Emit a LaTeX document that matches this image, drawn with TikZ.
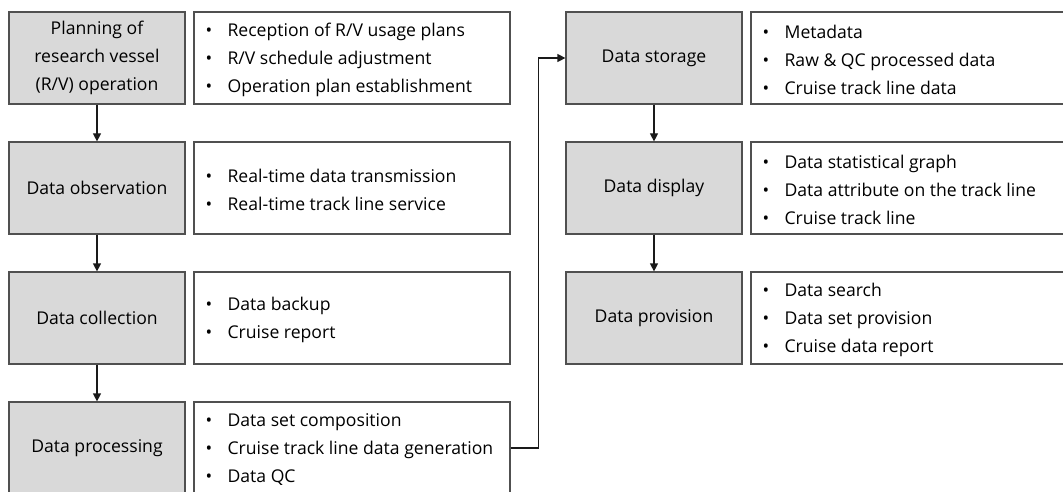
\documentclass[tikz,border=0pt]{standalone}
\usepackage{fontspec}
\setmainfont{Open Sans}
\usetikzlibrary{arrows.meta}
\definecolor{stagefill}{HTML}{D9D9D9}
\definecolor{boxline}{HTML}{505050}
\definecolor{flowline}{HTML}{1A1A1A}
\newcommand\bul{\makebox[22pt][l]{\textbullet}}
\begin{document}
\begin{tikzpicture}[x=1pt,y=-1pt,
  txt/.style={font=\fontsize{17.6}{28}\selectfont},
  stage/.style={draw=boxline, fill=stagefill, line width=1.2pt, minimum width=176pt,
    minimum height=92pt, inner sep=0pt, align=center, txt},
  detail/.style={draw=boxline, fill=white, line width=1.2pt, minimum width=316pt,
    minimum height=92pt, inner sep=0pt},
  items/.style={anchor=west, inner sep=0pt, align=left, txt},
  flow/.style={draw=flowline, line width=1.2pt, -{Triangle[width=8pt,length=8pt]}}
]
\useasboundingbox (0,0) rectangle (1063,492);
\clip (0,0) rectangle (1063,492);

% left column: stages and their details
\node[stage] (p1) at (97,58) {Planning of\\research vessel\\(R/V) operation};
\node[stage] (p2) at (97,188) {Data observation};
\node[stage] (p3) at (97,318) {Data collection};
\node[stage] (p4) at (97,448) {Data processing};

\node[detail] (d1) at (352,58) {};
\node[detail] (d2) at (352,188) {};
\node[detail] (d3) at (352,318) {};
\node[detail] (d4) at (352,448) {};

\node[items] (t1) at ([xshift=12pt,yshift=-2pt]d1.west) {\bul Reception of R/V usage plans\\\bul R/V schedule adjustment\\\bul Operation plan establishment};
\node[items] (t2) at ([xshift=12pt,yshift=-2pt]d2.west) {\bul Real-time data transmission\\\bul Real-time track line service};
\node[items] (t3) at ([xshift=12pt,yshift=-2pt]d3.west) {\bul Data backup\\\bul Cruise report};
\node[items] (t4) at ([xshift=12pt,yshift=-2pt]d4.west) {\bul Data set composition\\\bul Cruise track line data generation\\\bul Data QC};

% right column: stages and their details
\node[stage] (s1) at (654,58) {Data storage};
\node[stage] (s2) at (654,188) {Data display};
\node[stage] (s3) at (654,318) {Data provision};

\node[detail] (e1) at (909,58) {};
\node[detail] (e2) at (909,188) {};
\node[detail] (e3) at (909,318) {};

\node[items] (u1) at ([xshift=12pt,yshift=-2pt]e1.west) {\bul Metadata\\\bul Raw \& QC processed data\\\bul Cruise track line data};
\node[items] (u2) at ([xshift=12pt,yshift=-2pt]e2.west) {\bul Data statistical graph\\\bul Data attribute on the track line\\\bul Cruise track line};
\node[items] (u3) at ([xshift=12pt,yshift=-2pt]e3.west) {\bul Data search\\\bul Data set provision\\\bul Cruise data report};

% flow between stages
\draw[flow] (p1) -- (p2);
\draw[flow] (p2) -- (p3);
\draw[flow] (p3) -- (p4);
\coordinate (turn) at ([xshift=28pt]d4.east);
\draw[flow] (d4.east) -- (turn) |- (s1.west);
\draw[flow] (s1) -- (s2);
\draw[flow] (s2) -- (s3);
\end{tikzpicture}
\end{document}
